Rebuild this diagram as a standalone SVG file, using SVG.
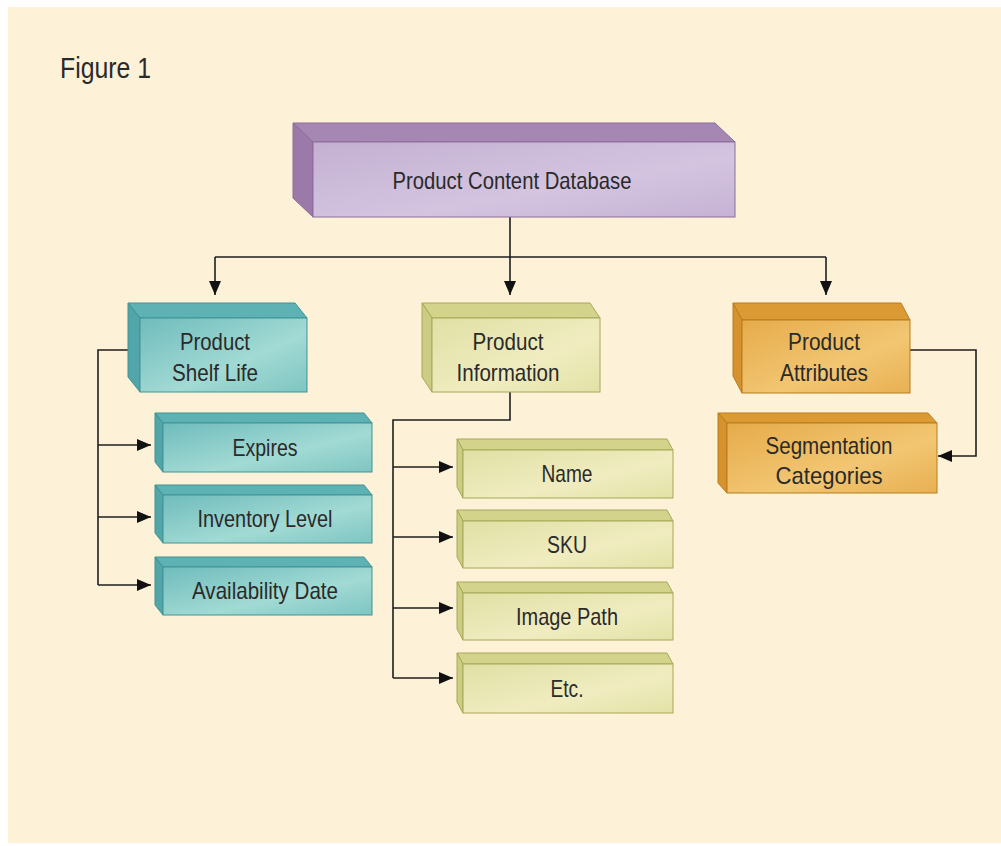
<svg xmlns="http://www.w3.org/2000/svg" width="1001" height="846" viewBox="0 0 1001 846">
<defs>
<style>
.t{font-family:"Liberation Sans",Arial,sans-serif;font-size:24px;fill:#2a2a2a;text-anchor:middle}
.c{fill:none;stroke:#1e1e1e;stroke-width:1.6}
.pt{fill:#a687b3;stroke:#8c6c9a;stroke-width:1}
.ps{fill:#9b7aa9;stroke:#8c6c9a;stroke-width:1}
.pf{fill:url(#gp);stroke:#8c6c9a;stroke-width:1}
.tt{fill:#5fb2b4;stroke:#3f9396;stroke-width:1}
.ts{fill:#52a5a8;stroke:#3f9396;stroke-width:1}
.tf{fill:url(#gt);stroke:#3f9396;stroke-width:1}
.yt{fill:#d3d38c;stroke:#a8a858;stroke-width:1}
.ys{fill:#cccc84;stroke:#a8a858;stroke-width:1}
.yf{fill:url(#gy);stroke:#a8a858;stroke-width:1}
.ot{fill:#dc9a35;stroke:#b77d1d;stroke-width:1}
.os{fill:#d6922e;stroke:#b77d1d;stroke-width:1}
.of{fill:url(#go);stroke:#b77d1d;stroke-width:1}
</style>
<linearGradient id="gp" x1="0" y1="0" x2="1" y2="1">
<stop offset="0" stop-color="#c4b0d2"/><stop offset="0.6" stop-color="#d4c4e0"/><stop offset="1" stop-color="#c6b2d4"/>
</linearGradient>
<linearGradient id="gt" x1="0" y1="0" x2="1" y2="1">
<stop offset="0" stop-color="#6fbcbd"/><stop offset="0.6" stop-color="#a2dad4"/><stop offset="1" stop-color="#7ec5c2"/>
</linearGradient>
<linearGradient id="gy" x1="0" y1="0" x2="1" y2="1">
<stop offset="0" stop-color="#e0e0a4"/><stop offset="0.6" stop-color="#f0ecc0"/><stop offset="1" stop-color="#e2e2a6"/>
</linearGradient>
<linearGradient id="go" x1="0" y1="0" x2="1" y2="1">
<stop offset="0" stop-color="#e6ab4a"/><stop offset="0.6" stop-color="#f2c672"/><stop offset="1" stop-color="#e8b052"/>
</linearGradient>
<marker id="ah" viewBox="0 0 14 12" refX="14" refY="6" markerWidth="14" markerHeight="12" markerUnits="userSpaceOnUse" orient="auto">
<path d="M0,0 L14,6 L0,12 Z" fill="#111"/>
</marker>
</defs>
<rect x="0" y="0" width="1001" height="846" fill="#ffffff"/>
<rect x="8" y="7" width="993" height="836" fill="#fdf2d8"/>
<text x="60" y="78" style="font-family:'Liberation Sans',Arial,sans-serif;font-size:30px;fill:#2a2a2a" textLength="91" lengthAdjust="spacingAndGlyphs">Figure 1</text>

<g id="connectors">
<path class="c" d="M510,217 V257 M215,257 H826"/>
<path class="c" d="M215,257 V295" marker-end="url(#ah)"/>
<path class="c" d="M510,257 V295" marker-end="url(#ah)"/>
<path class="c" d="M826,257 V295" marker-end="url(#ah)"/>
<path class="c" d="M128,350 H98 V585"/>
<path class="c" d="M98,445 H151" marker-end="url(#ah)"/>
<path class="c" d="M98,517 H151" marker-end="url(#ah)"/>
<path class="c" d="M98,585 H151" marker-end="url(#ah)"/>
<path class="c" d="M510,392 V420 H393 V678"/>
<path class="c" d="M393,467 H453" marker-end="url(#ah)"/>
<path class="c" d="M393,537 H453" marker-end="url(#ah)"/>
<path class="c" d="M393,608 H453" marker-end="url(#ah)"/>
<path class="c" d="M393,678 H453" marker-end="url(#ah)"/>
<path class="c" d="M910,350 H976 V456 H938" marker-end="url(#ah)"/>
</g>

<g id="product-content-database">
<polygon class="pt" points="293,123 715,123 735,142 313,142"/>
<polygon class="ps" points="293,123 313,142 313,217 293,198"/>
<rect class="pf" x="313" y="142" width="422" height="75"/>
<text class="t" x="512" y="189" textLength="239" lengthAdjust="spacingAndGlyphs">Product Content Database</text>
</g>

<g id="product-shelf-life">
<polygon class="tt" points="128,303 295,303 307,318 140,318"/>
<polygon class="ts" points="128,303 140,318 140,392 128,377"/>
<rect class="tf" x="140" y="318" width="167" height="74"/>
<text class="t" x="215" y="350" textLength="70" lengthAdjust="spacingAndGlyphs">Product</text>
<text class="t" x="215" y="381" textLength="86" lengthAdjust="spacingAndGlyphs">Shelf Life</text>
</g>

<g id="expires">
<polygon class="tt" points="155,413 364,413 372,423 163,423"/>
<polygon class="ts" points="155,413 163,423 163,472 155,462"/>
<rect class="tf" x="163" y="423" width="209" height="49"/>
<text class="t" x="265" y="456" textLength="65" lengthAdjust="spacingAndGlyphs">Expires</text>
</g>

<g id="inventory-level">
<polygon class="tt" points="155,485 364,485 372,495 163,495"/>
<polygon class="ts" points="155,485 163,495 163,543 155,533"/>
<rect class="tf" x="163" y="495" width="209" height="48"/>
<text class="t" x="265" y="527" textLength="135" lengthAdjust="spacingAndGlyphs">Inventory Level</text>
</g>

<g id="availability-date">
<polygon class="tt" points="155,557 364,557 372,567 163,567"/>
<polygon class="ts" points="155,557 163,567 163,615 155,605"/>
<rect class="tf" x="163" y="567" width="209" height="48"/>
<text class="t" x="265" y="599" textLength="146" lengthAdjust="spacingAndGlyphs">Availability Date</text>
</g>

<g id="product-information">
<polygon class="yt" points="422,303 590,303 600,318 432,318"/>
<polygon class="ys" points="422,303 432,318 432,392 422,377"/>
<rect class="yf" x="432" y="318" width="168" height="74"/>
<text class="t" x="508" y="350" textLength="71" lengthAdjust="spacingAndGlyphs">Product</text>
<text class="t" x="508" y="381" textLength="103" lengthAdjust="spacingAndGlyphs">Information</text>
</g>

<g id="name">
<polygon class="yt" points="457,439 667,439 673,450 463,450"/>
<polygon class="ys" points="457,439 463,450 463,498 457,487"/>
<rect class="yf" x="463" y="450" width="210" height="48"/>
<text class="t" x="567" y="482" textLength="51" lengthAdjust="spacingAndGlyphs">Name</text>
</g>

<g id="sku">
<polygon class="yt" points="457,510 667,510 673,521 463,521"/>
<polygon class="ys" points="457,510 463,521 463,568 457,557"/>
<rect class="yf" x="463" y="521" width="210" height="47"/>
<text class="t" x="567" y="553" textLength="40" lengthAdjust="spacingAndGlyphs">SKU</text>
</g>

<g id="image-path">
<polygon class="yt" points="457,582 667,582 673,593 463,593"/>
<polygon class="ys" points="457,582 463,593 463,640 457,629"/>
<rect class="yf" x="463" y="593" width="210" height="47"/>
<text class="t" x="567" y="625" textLength="102" lengthAdjust="spacingAndGlyphs">Image Path</text>
</g>

<g id="etc">
<polygon class="yt" points="457,653 667,653 673,664 463,664"/>
<polygon class="ys" points="457,653 463,664 463,713 457,702"/>
<rect class="yf" x="463" y="664" width="210" height="49"/>
<text class="t" x="567" y="697" textLength="33" lengthAdjust="spacingAndGlyphs">Etc.</text>
</g>

<g id="product-attributes">
<polygon class="ot" points="733,303 901,303 910,320 742,320"/>
<polygon class="os" points="733,303 742,320 742,393 733,376"/>
<rect class="of" x="742" y="320" width="168" height="73"/>
<text class="t" x="824" y="350" textLength="72" lengthAdjust="spacingAndGlyphs">Product</text>
<text class="t" x="824" y="381" textLength="88" lengthAdjust="spacingAndGlyphs">Attributes</text>
</g>

<g id="segmentation-categories">
<polygon class="ot" points="718,413 928,413 937,423 727,423"/>
<polygon class="os" points="718,413 727,423 727,493 718,483"/>
<rect class="of" x="727" y="423" width="210" height="70"/>
<text class="t" x="829" y="454" textLength="127" lengthAdjust="spacingAndGlyphs">Segmentation</text>
<text class="t" x="829" y="484" textLength="107" lengthAdjust="spacingAndGlyphs">Categories</text>
</g>
</svg>
